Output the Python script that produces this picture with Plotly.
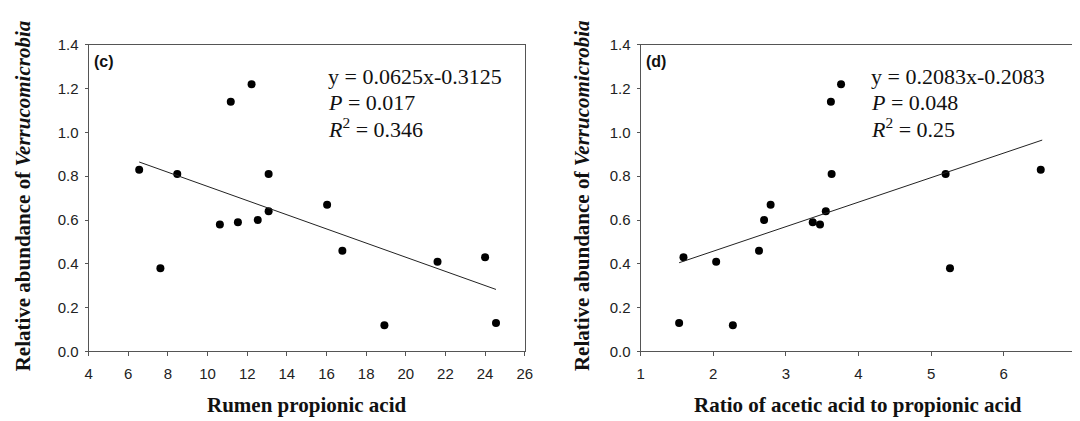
import plotly.graph_objects as go

# ---- data ----
c_x = [6.55, 7.62, 8.47, 10.62, 11.17, 11.53, 12.22, 12.53, 13.08, 13.08, 16.03, 16.8, 18.92, 21.6, 24.0, 24.55]
c_y = [0.83, 0.38, 0.81, 0.58, 1.14, 0.59, 1.22, 0.60, 0.81, 0.64, 0.67, 0.46, 0.12, 0.41, 0.43, 0.13]
c_fit_x = [6.55, 24.55]
c_fit_y = [0.865, 0.283]

d_x = [1.53, 1.59, 2.04, 2.27, 2.63, 2.70, 2.79, 3.37, 3.47, 3.55, 3.62, 3.63, 3.76, 5.20, 5.26, 6.51]
d_y = [0.13, 0.43, 0.41, 0.12, 0.46, 0.60, 0.67, 0.59, 0.58, 0.64, 1.14, 0.81, 1.22, 0.81, 0.38, 0.83]
d_fit_x = [1.53, 6.53]
d_fit_y = [0.405, 0.965]

panel_labels = ["(c)", "(d)"]
x_titles = ["Rumen propionic acid", "Ratio of acetic acid to propionic acid"]
y_title = "Relative abundance of <i>Verrucomicrobia</i>"
stats_c = ["y = 0.0625x-0.3125", "<i>P</i> = 0.017", "<i>R</i><sup>2</sup> = 0.346"]
stats_d = ["y = 0.2083x-0.2083", "<i>P</i> = 0.048", "<i>R</i><sup>2</sup> = 0.25"]

W, H = 1080, 421
def px(x):
    return x / W
def py(y):
    return 1 - y / H

fig = go.Figure()
marker = dict(color="black", size=8)
line = dict(color="#222", width=1)

fig.add_trace(go.Scatter(x=c_x, y=c_y, mode="markers", marker=marker, xaxis="x", yaxis="y", showlegend=False))
fig.add_trace(go.Scatter(x=c_fit_x, y=c_fit_y, mode="lines", line=line, xaxis="x", yaxis="y", showlegend=False))
fig.add_trace(go.Scatter(x=d_x, y=d_y, mode="markers", marker=marker, xaxis="x2", yaxis="y2", showlegend=False))
fig.add_trace(go.Scatter(x=d_fit_x, y=d_fit_y, mode="lines", line=line, xaxis="x2", yaxis="y2", showlegend=False))

axcol = "#555"
tickfont = dict(family="Liberation Sans, Arial", size=15, color="#222")
common_x = dict(showline=True, linecolor=axcol, linewidth=1, mirror=True, showgrid=False, zeroline=False,
                ticks="outside", ticklen=4, tickcolor=axcol, tickfont=tickfont, ticklabelstandoff=5)
common_y = dict(showline=True, linecolor=axcol, linewidth=1, mirror=True, showgrid=False, zeroline=False,
                ticks="outside", ticklen=3, tickcolor=axcol, tickfont=tickfont, range=[0, 1.4], dtick=0.2,
                tickformat=".1f", ticklabelstandoff=3)

ydom = [py(348.5), py(29)]
fig.update_layout(
    width=W, height=H,
    margin=dict(l=0, r=0, t=0, b=0),
    plot_bgcolor="white", paper_bgcolor="white",
    xaxis=dict(domain=[px(77.5), px(518.5)], range=[4, 26], dtick=2, anchor="y", **common_x),
    yaxis=dict(domain=ydom, anchor="x", **common_y),
    xaxis2=dict(domain=[px(635.7), px(1076.3)], range=[1, 7], dtick=1, anchor="y2", **common_x),
    yaxis2=dict(domain=ydom, anchor="x2", **common_y),
)

ann = []
titlefont = dict(family="Liberation Serif, Times New Roman", size=21, color="#111")
# axis titles
for cx, t in zip([298, 856], x_titles):
    ann.append(dict(x=px(cx), y=py(404), xref="paper", yref="paper", text=f"<b>{t}</b>",
                    showarrow=False, xanchor="center", yanchor="middle", font=titlefont))
for cx in [12, 577]:
    ann.append(dict(x=px(cx), y=py(186), xref="paper", yref="paper", text=f"<b>{y_title}</b>",
                    textangle=-90, showarrow=False, xanchor="center", yanchor="middle", font=titlefont))
# panel labels
for lx, lab in zip([81, 639], panel_labels):
    ann.append(dict(x=px(lx), y=py(46), xref="paper", yref="paper", text=f"<b>{lab}</b>",
                    showarrow=False, xanchor="left", yanchor="middle",
                    font=dict(family="Liberation Sans, Arial", size=16, color="#111")))
# statistics text
statfont = dict(family="Liberation Serif, Times New Roman", size=22, color="#111")
for sx, lines in zip([318, 867], [stats_c, stats_d]):
    for yy, s in zip([62, 89, 116], lines):
        ann.append(dict(x=px(sx), y=py(yy), xref="paper", yref="paper", text=s,
                        showarrow=False, xanchor="left", yanchor="middle", font=statfont))
fig.update_layout(annotations=ann)

fig.write_html("out.html")
